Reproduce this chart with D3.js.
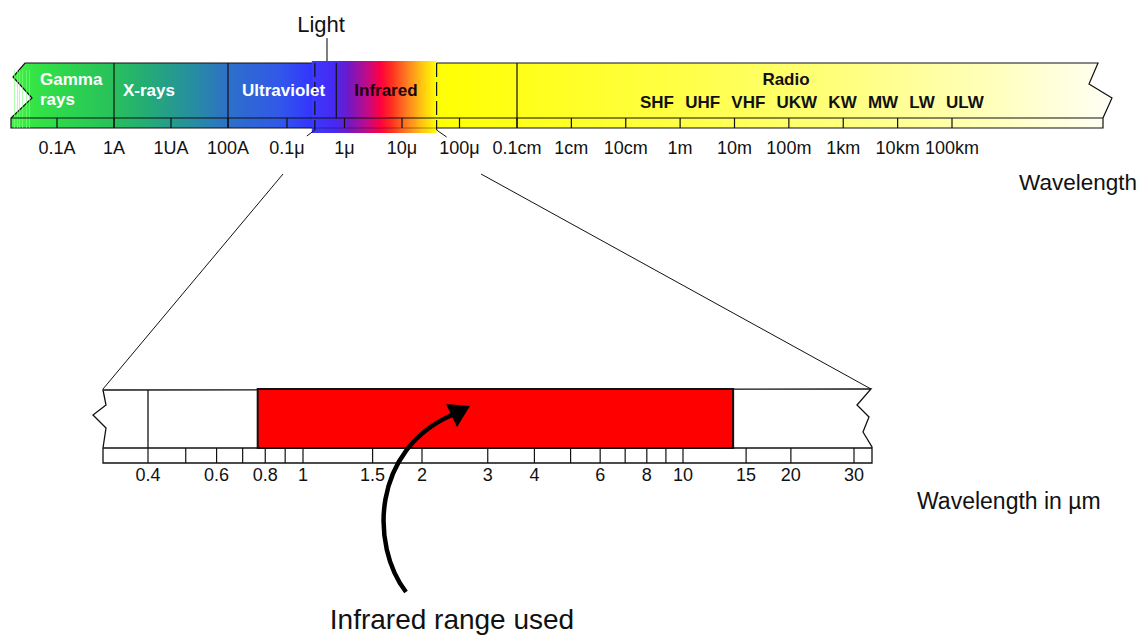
<!DOCTYPE html>
<html><head><meta charset="utf-8">
<script src="https://cdn.jsdelivr.net/npm/d3@7"></script>
<style>
body{margin:0;background:#fff}
svg{display:block}
text{font-family:"Liberation Sans",Arial,Helvetica,sans-serif}
</style>
</head><body>
<svg id="c" width="1143" height="635"></svg>
<script>
// ---- data ----
const topTickValues = [1e-11,1e-10,1e-9,1e-8,1e-7,1e-6,1e-5,1e-4,1e-3,1e-2,1e-1,1,10,100,1e3,1e4,1e5];
const topTickLabels = ["0.1A","1A","1UA","100A","0.1μ","1μ","10μ","100μ","0.1cm","1cm","10cm","1m","10m","100m","1km","10km","100km"];
const bandBoundaries = [1e-10, 1e-8, 7.2e-7, 1e-3];          // gamma|x-ray|uv|infrared|radio
const bandNames = ["Gamma", "X-rays", "Ultraviolet", "Infrared"];
const lightRange = [2.7e-7, 4e-5];
const radioBands = ["SHF","UHF","VHF","UKW","KW","MW","LW","ULW"];
const lowerTickValues = [0.4,0.5,0.6,0.7,0.8,0.9,1,1.5,2,3,4,5,6,7,8,9,10,15,20,30];
const lowerTickLabels = ["0.4","","0.6","","0.8","","1","1.5","2","3","4","","6","","8","","10","15","20","30"];
const infraredUsed = [0.765, 13.8];

// ---- scales ----
const xTop = d3.scaleLog().domain([1e-11,1e-8,1e-7,1e-3,1e5]).range([57,228,287,517,952]);
const xLow = d3.scaleLog().domain([0.4,1,2,10,30]).range([148,303,422,683,854]);

const svg = d3.select("#c");
const defs = svg.append("defs");

// bar gradient
const g1 = defs.append("linearGradient").attr("id","barGrad")
  .attr("gradientUnits","userSpaceOnUse").attr("x1",11).attr("x2",1112).attr("y1",0).attr("y2",0);
[[11,"#4cf24c"],[30,"#36e646"],[60,"#2ed84c"],[110,"#28c25a"],[150,"#24aa78"],[200,"#2888a8"],[228,"#2d70c8"],
 [280,"#3158ea"],[312,"#3434ff"],[430,"#ffff00"],[517,"#ffff18"],[700,"#ffff4c"],[850,"#ffff80"],
 [1000,"#ffffc0"],[1112,"#fffff6"]].forEach(([x,c])=>{
  g1.append("stop").attr("offset",(x-11)/1101).attr("stop-color",c);
});
// light gradient
const g2 = defs.append("linearGradient").attr("id","lightGrad").attr("x1",0).attr("x2",1).attr("y1",0).attr("y2",0);
[[0,"#3a3aff"],[0.19,"#4828f2"],[0.3,"#7418c4"],[0.45,"#c40a84"],[0.55,"#ff0040"],[0.63,"#ff2a22"],
 [0.76,"#ff7c20"],[0.88,"#ffc412"],[1,"#ffff00"]].forEach(([o,c])=>{
  g2.append("stop").attr("offset",o).attr("stop-color",c);
});

// ---- top bar ----
const topY0 = 63, stripY = 118, topY1 = 128;
const barPath = `M25,${topY0} L1098,${topY0} L1089,84 L1112,98 L1103,${stripY} L1103,${topY1} L11,${topY1} L11,${stripY} L32,98 L13,77 Z`;
svg.append("path").attr("d",barPath).attr("fill","url(#barGrad)").attr("stroke","#111").attr("stroke-width",1.2);

// faint stripes at left end
[14,17,19,22,26,29].forEach(x=>{
  svg.append("rect").attr("x",x).attr("y",70).attr("width",1).attr("height",58).attr("fill","#7dff7d").attr("opacity",0.6);
});

// band boundaries
const boundG = svg.append("g").attr("stroke","#111").attr("stroke-width",1.2);
bandBoundaries.forEach((b,i)=>{
  boundG.append("line").attr("x1",xTop(b)).attr("x2",xTop(b))
    .attr("y1",topY0).attr("y2", i===2 ? stripY : topY1);
});

// light box
const lx0 = xTop(lightRange[0]), lx1 = xTop(lightRange[1]);
svg.append("rect").attr("x",lx0).attr("y",61).attr("width",lx1-lx0).attr("height",72).attr("fill","url(#lightGrad)");
svg.append("line").attr("x1",xTop(bandBoundaries[2])).attr("x2",xTop(bandBoundaries[2]))
  .attr("y1",topY0).attr("y2",stripY).attr("stroke","#111").attr("stroke-width",1.2);
// strip lines over
svg.append("line").attr("x1",11).attr("x2",1103).attr("y1",stripY).attr("y2",stripY).attr("stroke","#111").attr("stroke-width",1.2);
svg.append("line").attr("x1",lx0).attr("x2",lx1).attr("y1",topY1).attr("y2",topY1).attr("stroke","#111").attr("stroke-width",0.8).attr("opacity",0.5);
// dashed edges of light box
[lx0+3, lx1].forEach(x=>{
  svg.append("line").attr("x1",x).attr("x2",x).attr("y1",topY0).attr("y2",130)
    .attr("stroke","#111").attr("stroke-width",1.2).attr("stroke-dasharray","14,5");
});
// small corner diagonals
svg.append("line").attr("x1",lx0+3).attr("y1",130).attr("x2",lx0-5).attr("y2",136).attr("stroke","#111");
svg.append("line").attr("x1",lx1).attr("y1",130).attr("x2",lx1+10).attr("y2",137).attr("stroke","#111");

// top ticks
svg.append("g").selectAll("line").data(topTickValues).join("line")
  .attr("x1",d=>xTop(d)).attr("x2",d=>xTop(d)).attr("y1",stripY).attr("y2",topY1)
  .attr("stroke","#111").attr("stroke-width",1.2);
svg.append("g").selectAll("text").data(topTickValues).join("text")
  .attr("x",d=>xTop(d)).attr("y",154).attr("text-anchor","middle")
  .attr("font-size",18).attr("fill","#111").text((d,i)=>topTickLabels[i]);

// band labels
const lbl = (x,y,t,fill)=>svg.append("text").attr("x",x).attr("y",y).attr("font-size",17)
  .attr("font-weight","bold").attr("fill",fill).text(t);
lbl(40,85,bandNames[0],"#fff");
lbl(40,105,"rays","#fff");
lbl(xTop(bandBoundaries[0])+9,96,bandNames[1],"#fff");
lbl(xTop(bandBoundaries[1])+14,96,bandNames[2],"#fff");
lbl(xTop(bandBoundaries[2])+18,96,bandNames[3],"#1a0010");
svg.append("text").attr("x",786).attr("y",85).attr("text-anchor","middle").attr("font-size",17)
  .attr("font-weight","bold").attr("fill","#111").text("Radio");
// radio sub-bands
let rx = 640;
radioBands.forEach(b=>{
  const t = svg.append("text").attr("x",rx).attr("y",108).attr("font-size",17)
    .attr("font-weight","bold").attr("fill","#111").text(b);
  rx += t.node().getComputedTextLength() + 11.2;
});

// Light label
svg.append("text").attr("x",321).attr("y",32).attr("text-anchor","middle").attr("font-size",22).attr("fill","#111").text("Light");
svg.append("line").attr("x1",327).attr("x2",327).attr("y1",38).attr("y2",61).attr("stroke","#555").attr("stroke-width",1.5);

svg.append("text").attr("x",1137).attr("y",190).attr("text-anchor","end").attr("font-size",22.5).attr("fill","#111").text("Wavelength");

// zoom lines
svg.append("line").attr("x1",283).attr("y1",174).attr("x2",103).attr("y2",389).attr("stroke","#111");
svg.append("line").attr("x1",481).attr("y1",174).attr("x2",871).attr("y2",389).attr("stroke","#111");

// ---- lower bar ----
const lY0 = 390, lY1 = 448, lY2 = 463;
const lowPath = `M103,${lY0} L106,405 L93,415 L106,428 L103,${lY1} L103,${lY2} L872,${lY2} L872,447 L863,432 L869,417 L857,405 L871,389 Z`;
svg.append("path").attr("d",lowPath).attr("fill","#fff").attr("stroke","#111").attr("stroke-width",1.3);
svg.append("line").attr("x1",103).attr("x2",872).attr("y1",lY1).attr("y2",lY1).attr("stroke","#111").attr("stroke-width",1.3);
svg.append("line").attr("x1",xLow(0.4)).attr("x2",xLow(0.4)).attr("y1",lY0).attr("y2",lY1).attr("stroke","#111").attr("stroke-width",1.3);

svg.append("rect").attr("x",xLow(infraredUsed[0])).attr("y",389)
  .attr("width",xLow(infraredUsed[1])-xLow(infraredUsed[0])).attr("height",lY1-389)
  .attr("fill","#ff0000").attr("stroke","#111").attr("stroke-width",2);

svg.append("g").selectAll("line").data(lowerTickValues).join("line")
  .attr("x1",d=>xLow(d)).attr("x2",d=>xLow(d)).attr("y1",lY1).attr("y2",lY2)
  .attr("stroke","#111").attr("stroke-width",1.2);
svg.append("g").selectAll("text").data(lowerTickValues).join("text")
  .attr("x",d=>xLow(d)).attr("y",481).attr("text-anchor","middle")
  .attr("font-size",18).attr("fill","#111").text((d,i)=>lowerTickLabels[i]);

svg.append("text").attr("x",917).attr("y",509).attr("font-size",23).attr("fill","#111").text("Wavelength in µm");

// arrow
svg.append("path").attr("d","M406,592 C 370,545 372,450 452,415").attr("fill","none")
  .attr("stroke","#000").attr("stroke-width",4.5);
svg.append("path").attr("d","M470,406 L446,404 L457,427 Z").attr("fill","#000");

svg.append("text").attr("x",452).attr("y",629).attr("text-anchor","middle").attr("font-size",28).attr("fill","#111").text("Infrared range used");
</script>
</body></html>
